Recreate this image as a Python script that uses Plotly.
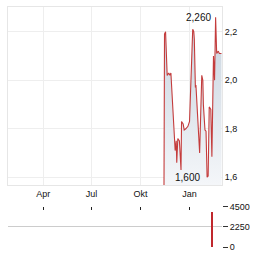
import plotly.graph_objects as go

# ---- data ----
dates = ["2024-11-14", "2024-11-15", "2024-11-17", "2024-11-19", "2024-11-20",
         "2024-11-23", "2024-11-25", "2024-11-27", "2024-12-05", "2024-12-07",
         "2024-12-08", "2024-12-10", "2024-12-13", "2024-12-16", "2024-12-17",
         "2024-12-20", "2024-12-22", "2024-12-25", "2024-12-29", "2025-01-01",
         "2025-01-05", "2025-01-07", "2025-01-09", "2025-01-10", "2025-01-12",
         "2025-01-13", "2025-01-20", "2025-01-24", "2025-01-26", "2025-01-27",
         "2025-01-30", "2025-02-01", "2025-02-03", "2025-02-05", "2025-02-07",
         "2025-02-10", "2025-02-12", "2025-02-15", "2025-02-17", "2025-02-19",
         "2025-02-21", "2025-02-24", "2025-02-26", "2025-02-28", "2025-03-02"]
prices = [1.55, 2.19, 2.20, 2.05, 2.02,
          2.03, 2.02, 2.03, 1.71, 1.75,
          1.66, 1.76, 1.75, 1.63, 1.83,
          1.82, 1.795, 1.80, 1.81, 1.83,
          2.15, 2.21, 2.20, 2.17, 1.97,
          1.98, 1.70, 2.02, 2.00, 1.90,
          1.795, 1.79, 1.60, 1.605, 1.89,
          1.88, 1.685, 2.10, 2.00, 2.26,
          2.11, 2.12, 2.11, 2.11, 2.11]
vol_dates = ["2025-02-12"]
vol_values = [3900]

x_ticks = ["2024-04-01", "2024-07-01", "2024-10-01", "2025-01-01"]
x_ticktext = ["Apr", "Jul", "Okt", "Jan"]
price_ticks = [1.6, 1.8, 2.0, 2.2]
vol_ticks = [0, 2250, 4500]

hi_label = "2,260"
lo_label = "1,600"

# ---- figure ----
FONT = "Liberation Sans, Arial, sans-serif"
xr = ["2024-01-26", "2025-03-03"]

fig = go.Figure()
fig.add_trace(go.Scatter(
    x=dates, y=prices, mode="lines",
    line=dict(color="#c43c3c", width=1.1),
    fill="tozeroy",
    fillgradient=dict(type="vertical", start=1.57, stop=2.15,
                      colorscale=[[0, "rgba(244,246,249,1)"], [1, "rgba(206,216,226,1)"]]),
    xaxis="x", yaxis="y", hoverinfo="skip", showlegend=False))

fig.add_trace(go.Bar(
    x=vol_dates, y=vol_values, marker=dict(color="#c0282d", line=dict(width=0)),
    width=2.6 * 86400000, xaxis="x2", yaxis="y2", showlegend=False, hoverinfo="skip"))

imax = prices.index(max(prices))
imin = prices.index(min(prices[1:]))
fig.add_annotation(x=dates[imax], y=prices[imax], text=hi_label, showarrow=False,
                   xanchor="right", yanchor="middle", xshift=-3,
                   font=dict(family=FONT, size=10, color="#111"), xref="x", yref="y")
fig.add_annotation(x=dates[imin], y=prices[imin], text=lo_label, showarrow=False,
                   xanchor="right", yanchor="middle", xshift=-5,
                   font=dict(family=FONT, size=10, color="#111"), xref="x", yref="y")

fig.update_layout(
    width=264, height=255,
    margin=dict(l=8, r=42, t=7, b=8, autoexpand=False),
    paper_bgcolor="white", plot_bgcolor="white",
    separators=",.",
    font=dict(family=FONT, size=9, color="#111"),
    bargap=0,
    xaxis=dict(range=xr, type="date", domain=[0, 1], anchor="y", automargin=False,
               tickvals=x_ticks, ticktext=x_ticktext, ticks="",
               showgrid=True, gridcolor="#eeeeee", gridwidth=1,
               showline=True, linecolor="#e6e6e6", linewidth=1, mirror=True,
               tickfont=dict(size=9, color="#111"), zeroline=False),
    yaxis=dict(range=[1.568, 2.302], domain=[0.2583, 1], side="right", anchor="x",
               automargin=False,
               tickvals=price_ticks, tickformat=".1f", ticks="",
               showgrid=True, gridcolor="#eeeeee", gridwidth=1,
               showline=True, linecolor="#e6e6e6", mirror=True,
               zeroline=False, tickfont=dict(size=9, color="#111")),
    xaxis2=dict(range=xr, type="date", domain=[0, 1], anchor="y2", matches="x",
                automargin=False,
                side="top", tickvals=x_ticks, showticklabels=False,
                ticks="inside", ticklen=3, tickcolor="#222", tickwidth=1,
                showgrid=False, showline=False, zeroline=False),
    yaxis2=dict(range=[0, 4500], domain=[0, 0.1667], side="right", anchor="x2",
                automargin=False,
                tickvals=vol_ticks, tickformat="d", ticks="outside", ticklen=5,
                tickcolor="#333", tickwidth=1,
                showgrid=True, gridcolor="#cccccc", gridwidth=1,
                showline=False, zeroline=False, tickfont=dict(size=9, color="#111")),
)

fig.write_html("out.html")
